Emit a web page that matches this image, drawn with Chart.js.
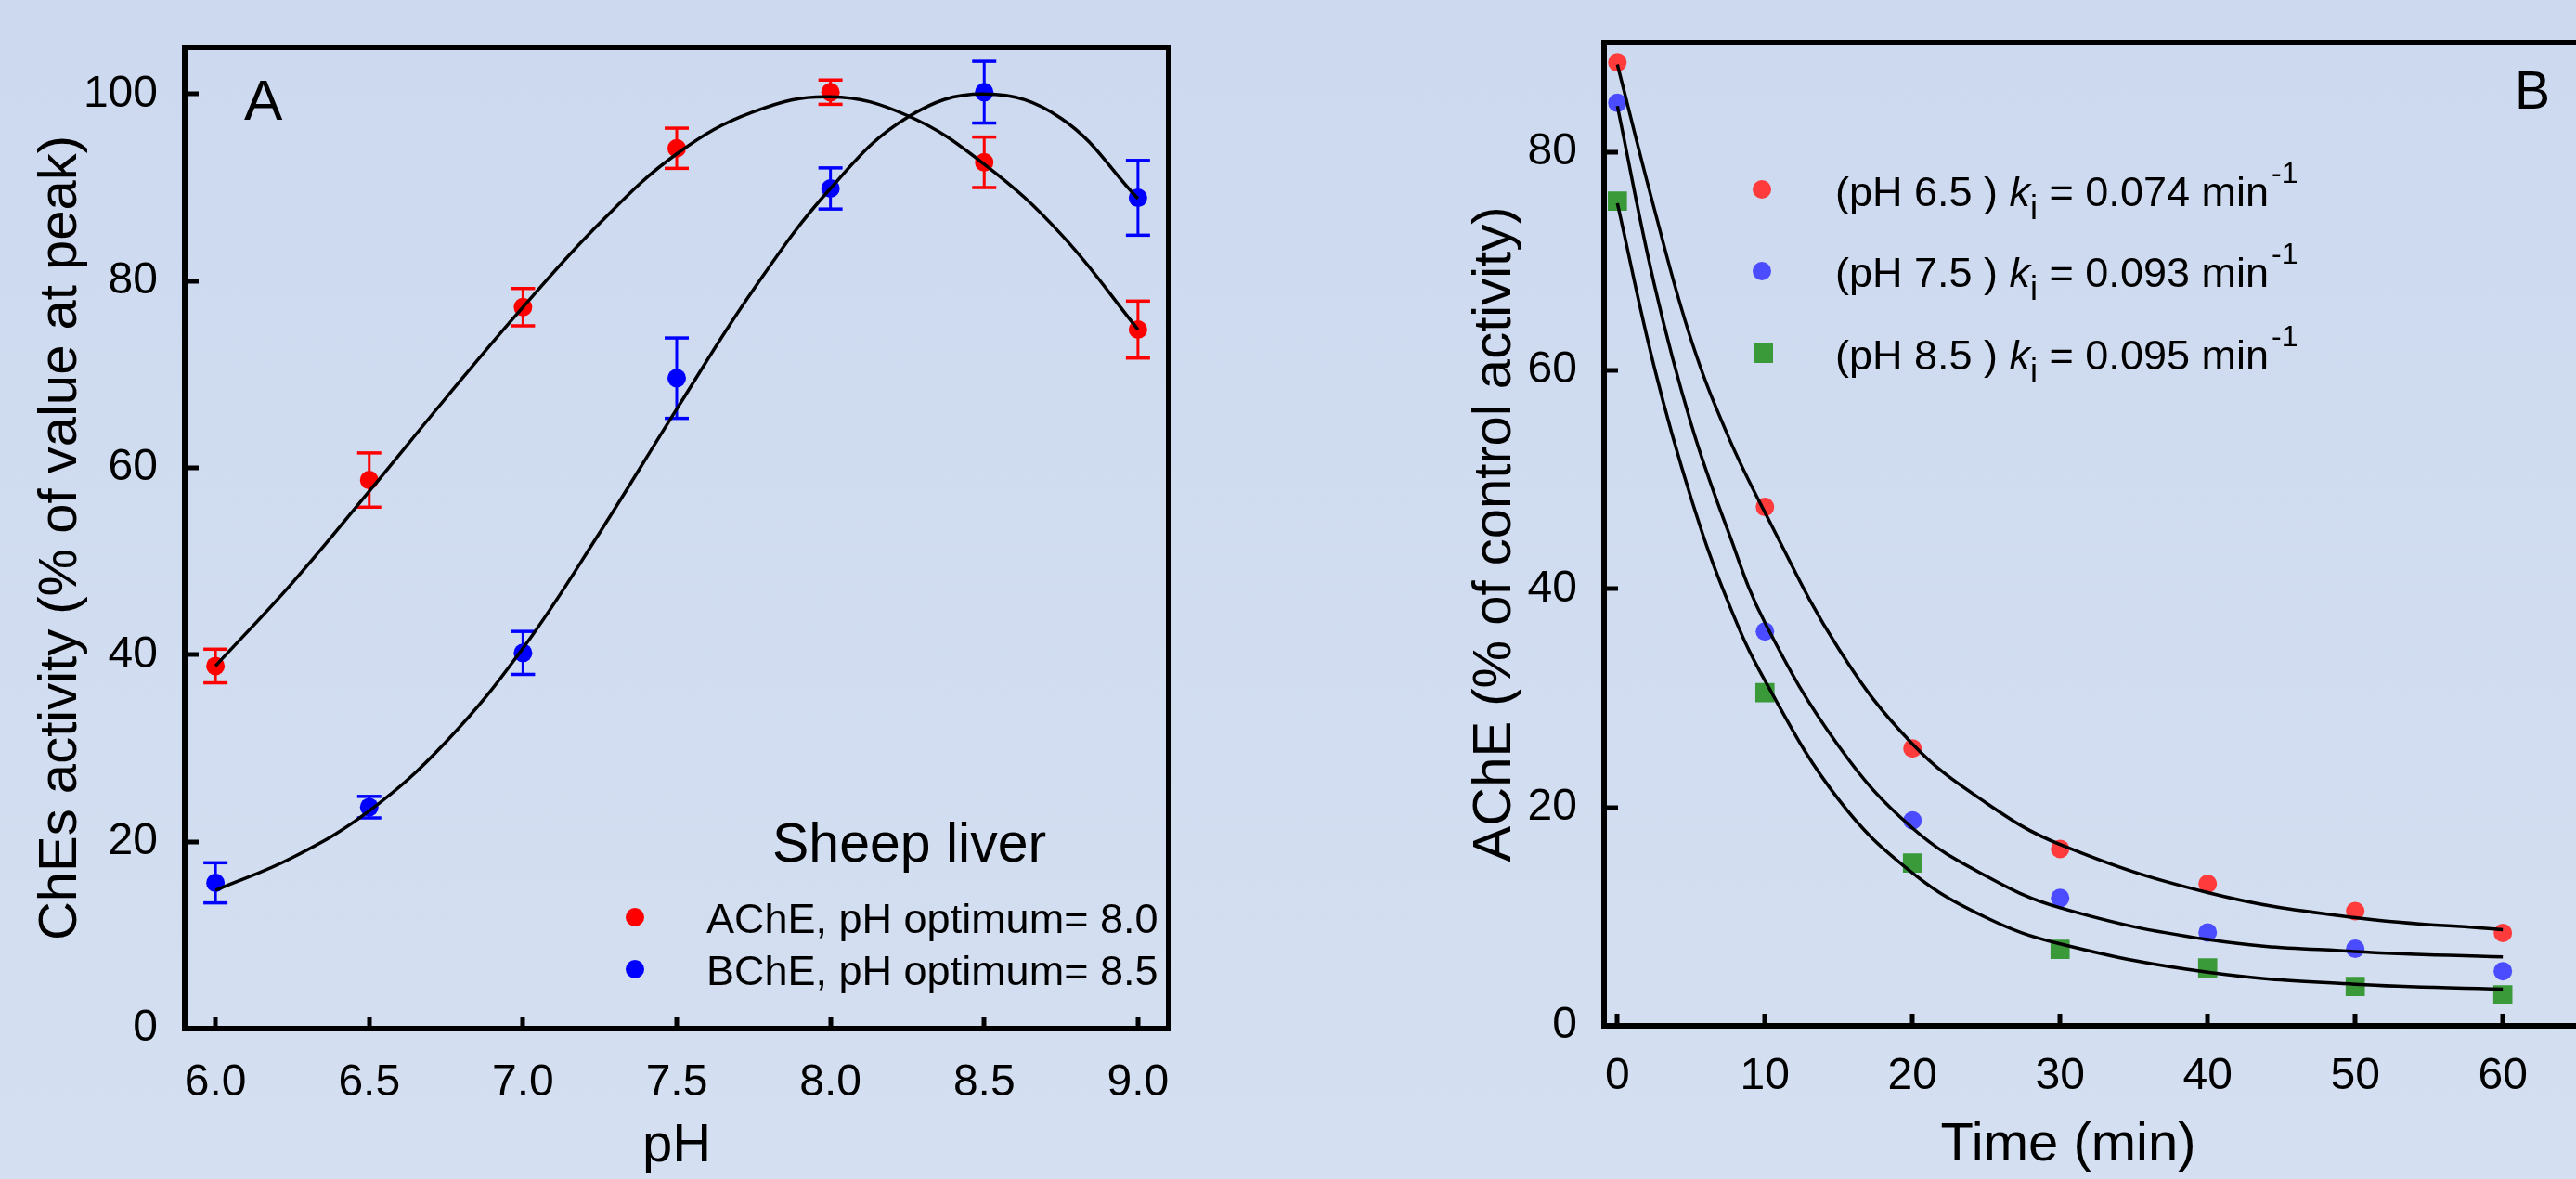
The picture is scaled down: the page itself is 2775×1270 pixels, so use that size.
<!DOCTYPE html>
<html lang="en">
<head>
<meta charset="UTF-8" />
<title>ChEs pH profile and AChE inactivation</title>
<script src="https://cdn.jsdelivr.net/npm/chart.js"></script>
<style>
  html, body { margin: 0; padding: 0; }
  body {
    width: 2775px;
    height: 1270px;
    overflow: hidden;
    position: relative;
    background: linear-gradient(#cdd9ef, #d4dff1);
    font-family: 'Liberation Sans', Arial, sans-serif;
    color: #000;
  }
  canvas { position: absolute; top: 0; }
  #chartA { left: 0; }
  #chartB { left: 1430px; }
  .lbl { position: absolute; white-space: nowrap; line-height: 1; }
  .dot { position: absolute; width: 20px; height: 20px; border-radius: 50%; }
  .sq { position: absolute; width: 21px; height: 21px; }
  sub, sup { position: relative; vertical-align: baseline; line-height: 0; }
  sub { font-size: 36px; top: 14px; }
  sup { font-size: 32px; top: -25px; margin-left: 3px; }
</style>
</head>
<body>
  <canvas id="chartA" width="1330" height="1270"></canvas>
  <canvas id="chartB" width="1400" height="1270"></canvas>

  <!-- panel A annotations -->
  <div class="lbl" style="left:263px; top:77px; font-size:62px;">A</div>
  <div class="lbl" style="left:832px; top:879px; font-size:59px;">Sheep liver</div>
  <div class="dot" style="left:674px; top:978px; background:#ff0000;"></div>
  <div class="lbl" style="left:761px; top:967px; font-size:45px;">AChE, pH optimum= 8.0</div>
  <div class="dot" style="left:674px; top:1034px; background:#0000ff;"></div>
  <div class="lbl" style="left:761px; top:1023px; font-size:45px;">BChE, pH optimum= 8.5</div>

  <!-- panel B annotations -->
  <div class="lbl" style="left:2709px; top:69px; font-size:57px;">B</div>
  <div class="dot" style="left:1888px; top:194px; background:#ff3b3b;"></div>
  <div class="lbl" style="left:1977px; top:184px; font-size:45px;">(pH 6.5 ) <i>k</i><sub>i</sub> = 0.074 min<sup>-1</sup></div>
  <div class="dot" style="left:1888px; top:282px; background:#4b4bff;"></div>
  <div class="lbl" style="left:1977px; top:271px; font-size:45px;">(pH 7.5 ) <i>k</i><sub>i</sub> = 0.093 min<sup>-1</sup></div>
  <div class="sq" style="left:1889px; top:370px; background:#3a9a3a;"></div>
  <div class="lbl" style="left:1977px; top:360px; font-size:45px;">(pH 8.5 ) <i>k</i><sub>i</sub> = 0.095 min<sup>-1</sup></div>
  <div class="lbl" style="left:2028px; top:1201px; width:400px; text-align:center; font-size:58px;">Time (min)</div>

<script>
  // ---- panel A: activity vs pH ----
  const phX = [6.0, 6.5, 7.0, 7.5, 8.0, 8.5, 9.0];
  const acheA = [38.8, 58.7, 77.2, 94.2, 100.2, 92.7, 74.8];
  const acheErr = [1.8, 2.9, 2.0, 2.15, 1.3, 2.7, 3.05];
  const bcheA = [15.6, 23.7, 40.2, 69.6, 89.9, 100.2, 88.9];
  const bcheErr = [2.15, 1.15, 2.3, 4.3, 2.2, 3.3, 4.0];

  // fitted curves
  const phFitX = [6.0, 6.25, 6.5, 6.75, 7.0, 7.25, 7.5, 7.75, 8.0, 8.25, 8.5, 8.75, 9.0];
  const acheFit = [38.8, 47.7, 57.5, 67.5, 77.2, 86.2, 93.6, 98.1, 99.7, 97.7, 92.5, 85.0, 74.8];
  const bcheFit = [14.8, 18.3, 23.3, 30.7, 40.7, 53.1, 66.3, 79.1, 89.9, 97.5, 100.0, 97.4, 88.8];

  const phTicks = [6.0, 6.5, 7.0, 7.5, 8.0, 8.5, 9.0];
  const pctTicksA = [0, 20, 40, 60, 80, 100];

  // ---- panel B: inactivation over time ----
  const timeX = [0, 10, 20, 30, 40, 50, 60];
  const ph65 = [88.2, 47.5, 25.4, 16.2, 13.0, 10.5, 8.5];
  const ph75 = [84.5, 36.1, 18.8, 11.7, 8.55, 7.05, 5.0];
  const ph85 = [75.5, 30.5, 14.9, 7.0, 5.3, 3.6, 2.85];

  const timeFitX = [0, 2.5, 5, 7.5, 10, 15, 20, 25, 30, 40, 50, 60];
  const fit65 = [88.0, 74.8, 62.8, 54.0, 47.0, 34.5, 25.8, 20.4, 16.6, 12.2, 9.9, 8.8];
  const fit75 = [84.2, 67.9, 55.1, 45.3, 36.9, 25.6, 18.1, 13.7, 10.8, 7.9, 6.8, 6.3];
  const fit85 = [75.3, 60.3, 48.3, 38.8, 31.6, 20.7, 14.0, 9.9, 7.5, 4.9, 3.8, 3.35];

  const timeTicks = [0, 10, 20, 30, 40, 50, 60];
  const pctTicksB = [0, 20, 40, 60, 80];

  Chart.defaults.font.family = "'Liberation Sans', Arial, sans-serif";
  Chart.defaults.color = '#000';

  const pts = (xs, ys) => xs.map((x, i) => ({ x, y: ys[i] }));

  // each error bar = two points joined by a line, caps are 'line' point markers
  function errBars(xs, ys, es) {
    const out = [];
    xs.forEach((x, i) => {
      out.push({ x, y: ys[i] - es[i] }, { x, y: ys[i] + es[i] }, { x, y: null });
    });
    return out;
  }

  const fixedTicks = vals => s => { s.ticks = vals.map(v => ({ value: v })); };

  // pin the scale box size and drop the label overflow padding
  function pinSize(prop, size) {
    return s => {
      s[prop] = size;
      s.paddingTop = 0; s.paddingBottom = 0;
      s.paddingLeft = 0; s.paddingRight = 0;
    };
  }

  function fitLine(data) {
    return {
      data, showLine: true, borderColor: '#000', borderWidth: 3.5,
      pointRadius: 0, tension: 0.4
    };
  }
  function dots(data, color, style, r) {
    return {
      data, showLine: false, pointStyle: style, pointRadius: r,
      backgroundColor: color, pointBorderWidth: 0, borderColor: color
    };
  }
  function bars(data, color) {
    return {
      data, showLine: true, spanGaps: false, tension: 0,
      borderColor: color, borderWidth: 3,
      pointStyle: 'line', pointRadius: 13, pointBorderWidth: 3.5, pointBorderColor: color
    };
  }

  function frameAxis(pos, min, max) {
    return {
      type: 'linear', position: pos, min, max,
      ticks: { display: false },
      grid: { drawOnChartArea: false, drawTicks: false, lineWidth: 6 },
      border: { color: '#000', width: 6 },
      afterFit: pinSize(pos === 'top' ? 'height' : 'width', 0)
    };
  }

  const tickFont = { size: 48 };
  const titleFont = { size: 58, lineHeight: 1 };

  new Chart(document.getElementById('chartA'), {
    type: 'scatter',
    data: {
      datasets: [
        fitLine(pts(phFitX, acheFit)),
        fitLine(pts(phFitX, bcheFit)),
        dots(pts(phX, acheA), '#ff0000', 'circle', 10),
        dots(pts(phX, bcheA), '#0000ff', 'circle', 10),
        bars(errBars(phX, acheA, acheErr), '#ff0000'),
        bars(errBars(phX, bcheA, bcheErr), '#0000ff')
      ]
    },
    options: {
      responsive: false,
      animation: false,
      devicePixelRatio: 1,
      layout: { padding: { top: 51, right: 71, bottom: 0, left: 0 } },
      plugins: { legend: { display: false }, tooltip: { enabled: false } },
      scales: {
        x: {
          type: 'linear', position: 'bottom', min: 5.9, max: 9.1,
          afterBuildTicks: fixedTicks(phTicks),
          afterFit: pinSize('height', 162),
          ticks: { font: tickFont, padding: 43, callback: v => v.toFixed(1) },
          grid: { drawOnChartArea: false, tickLength: -13, tickWidth: 5, tickColor: '#000', lineWidth: 6 },
          border: { color: '#000', width: 6 },
          title: { display: true, text: 'pH', font: titleFont, padding: { top: 0, bottom: 6 } }
        },
        y: {
          type: 'linear', position: 'left', min: 0, max: 105,
          afterBuildTicks: fixedTicks(pctTicksA),
          afterFit: pinSize('width', 199),
          ticks: { font: tickFont, padding: 44 },
          grid: { drawOnChartArea: false, tickLength: -15, tickWidth: 5, tickColor: '#000', lineWidth: 6 },
          border: { color: '#000', width: 6 },
          title: { display: true, text: 'ChEs activity (% of value at peak)', font: titleFont, padding: { top: 37, bottom: 0 } }
        },
        x2: frameAxis('top', 5.9, 9.1),
        y2: frameAxis('right', 0, 105)
      }
    }
  });

  new Chart(document.getElementById('chartB'), {
    type: 'scatter',
    data: {
      datasets: [
        fitLine(pts(timeFitX, fit65)),
        fitLine(pts(timeFitX, fit75)),
        fitLine(pts(timeFitX, fit85)),
        dots(pts(timeX, ph65), '#ff3b3b', 'circle', 10),
        dots(pts(timeX, ph75), '#4b4bff', 'circle', 10),
        dots(pts(timeX, ph85), '#3a9a3a', 'rect', 14.6)
      ]
    },
    options: {
      responsive: false,
      animation: false,
      devicePixelRatio: 1,
      layout: { padding: { top: 46, right: 0, bottom: 0, left: 0 } },
      plugins: { legend: { display: false }, tooltip: { enabled: false } },
      scales: {
        x: {
          type: 'linear', position: 'bottom', min: -0.9, max: 67.5,
          afterBuildTicks: fixedTicks(timeTicks),
          afterFit: pinSize('height', 165),
          ticks: { font: tickFont, padding: 39 },
          grid: { drawOnChartArea: false, tickLength: -13, tickWidth: 5, tickColor: '#000', lineWidth: 6 },
          border: { color: '#000', width: 6 }
        },
        y: {
          type: 'linear', position: 'left', min: 0, max: 90,
          afterBuildTicks: fixedTicks(pctTicksB),
          afterFit: pinSize('width', 298),
          ticks: { font: tickFont, padding: 44 },
          grid: { drawOnChartArea: false, tickLength: -15, tickWidth: 5, tickColor: '#000', lineWidth: 6 },
          border: { color: '#000', width: 6 },
          title: { display: true, text: 'AChE (% of control activity)', font: titleFont, padding: { top: 152, bottom: 0 } }
        },
        x2: frameAxis('top', -0.9, 67.5)
      }
    }
  });
</script>
</body>
</html>
